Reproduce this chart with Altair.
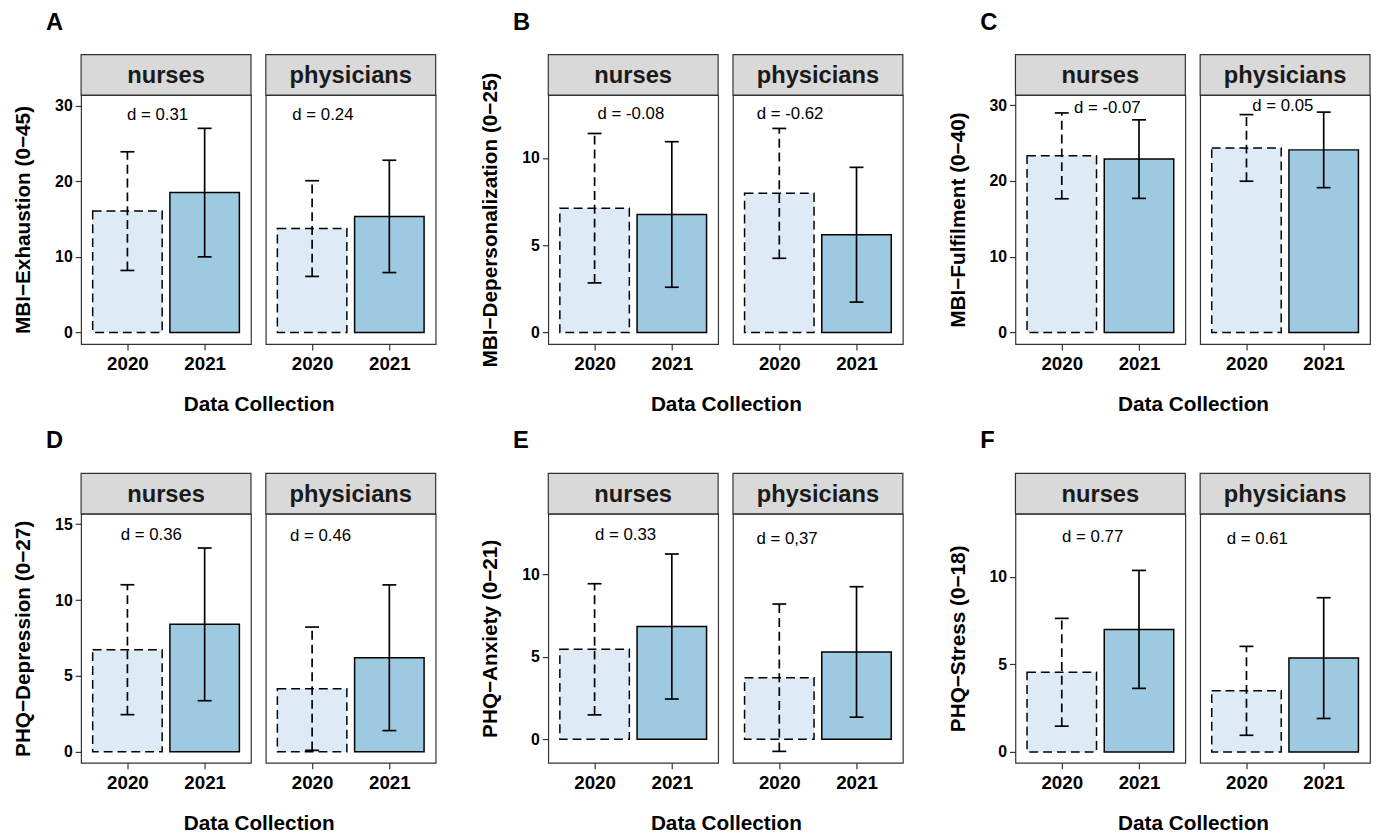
import altair as alt
import pandas as pd

FONT = "Liberation Sans"

panels = ["A", "B", "C", "D", "E", "F"]
y_titles = ["MBI−Exhaustion (0−45)", "MBI−Depersonalization (0−25)", "MBI−Fulfilment (0−40)",
            "PHQ−Depression (0−27)", "PHQ−Anxiety (0−21)", "PHQ−Stress (0−18)"]
professions = ["nurses", "physicians"]
years = [2020, 2021]

nurses_2020_mean = [16.05, 7.12, 23.33, 6.73, 5.45, 4.55]
nurses_2020_sd = [7.85, 4.28, 5.67, 4.28, 3.97, 3.08]
nurses_2021_mean = [18.50, 6.76, 22.90, 8.40, 6.83, 7.00]
nurses_2021_sd = [8.50, 4.17, 5.19, 5.03, 4.39, 3.37]
phys_2020_mean = [13.74, 7.97, 24.38, 4.16, 3.73, 3.49]
phys_2020_sd = [6.33, 3.72, 4.40, 4.06, 4.46, 2.54]
phys_2021_mean = [15.35, 5.60, 24.12, 6.20, 5.29, 5.36]
phys_2021_sd = [7.43, 3.86, 4.99, 4.80, 3.95, 3.45]

d_nurses = ["d = 0.31", "d = -0.08", "d = -0.07", "d = 0.36", "d = 0.33", "d = 0.77"]
d_phys = ["d = 0.24", "d = -0.62", "d = 0.05", "d = 0.46", "d = 0,37", "d = 0.61"]
d_nurses_x = [2020.39, 2020.47, 2020.59, 2020.31, 2020.40, 2020.40]
d_nurses_y = [28.8, 12.5, 29.66, 14.3, 12.38, 12.3]
d_phys_x = [2020.14, 2020.14, 2020.47, 2020.11, 2020.10, 2020.14]
d_phys_y = [28.8, 12.5, 29.9, 14.24, 12.12, 12.17]

y_domains = [[-1.53, 31.4], [-0.66, 13.6], [-1.53, 31.36], [-0.72, 15.68], [-1.42, 13.65], [-0.62, 13.6]]
y_ticks = [[0, 10, 20, 30], [0, 5, 10], [0, 10, 20, 30], [0, 5, 10, 15], [0, 5, 10], [0, 5, 10]]

# ---- tables built from the arrays ----
rows = []
for i, p in enumerate(panels):
    vals = {
        ("nurses", 2020): (nurses_2020_mean[i], nurses_2020_sd[i]),
        ("nurses", 2021): (nurses_2021_mean[i], nurses_2021_sd[i]),
        ("physicians", 2020): (phys_2020_mean[i], phys_2020_sd[i]),
        ("physicians", 2021): (phys_2021_mean[i], phys_2021_sd[i]),
    }
    for (prof, yr), (m, s) in vals.items():
        rows.append(dict(panel=p, prof=prof, year=yr, yr=str(yr), mean=m, sd=s))
bars_df = pd.DataFrame(rows)

lab_rows = []
for i, p in enumerate(panels):
    lab_rows.append(dict(panel=p, prof="nurses", label=d_nurses[i], lx=d_nurses_x[i], ly=d_nurses_y[i]))
    lab_rows.append(dict(panel=p, prof="physicians", label=d_phys[i], lx=d_phys_x[i], ly=d_phys_y[i]))
lab_df = pd.DataFrame(lab_rows)

strip_df = pd.DataFrame({"prof": professions})

PW, PH, SH = 172, 252, 41
LIGHT, DARK = "#DEEBF7", "#9ECAE1"
DASH = [9, 5]


def panel_chart(i, prof):
    show_y = prof == "nurses"
    xscale = alt.Scale(domain=[2019.4, 2021.6], nice=False, zero=False)
    xaxis = alt.Axis(values=years, format="d", title=None, grid=False, domain=False,
                     labelFontSize=19, labelFontWeight="bold", labelColor="black",
                     tickSize=6, tickWidth=1.2, tickColor="#333333", labelPadding=5,
                     labelFlush=False)
    yscale = alt.Scale(domain=y_domains[i], nice=False, zero=False)
    if show_y:
        yaxis = alt.Axis(values=y_ticks[i], title=y_titles[i], grid=False, domain=False,
                         labelFontSize=16, labelFontWeight="bold", labelColor="black",
                         tickSize=6, tickWidth=1.2, tickColor="#333333", labelPadding=3,
                         titleFontSize=21, titleFontWeight="bold", titleColor="black",
                         titlePadding=18, minExtent=30, maxExtent=30)
    else:
        yaxis = None

    # facet strip (header) drawn above the panel
    sd = strip_df[strip_df.prof == prof]
    strip_bg = alt.Chart(sd).mark_rect(fill="#D9D9D9", stroke="#333333", strokeWidth=1.2).encode(
        x=alt.value(0), x2=alt.value(PW), y=alt.value(-SH), y2=alt.value(0)
    )
    strip_tx = alt.Chart(sd).mark_text(
        fontSize=24, fontWeight="bold", color="#1A1A1A", baseline="middle", align="center"
    ).encode(text="prof:N", x=alt.value(PW / 2), y=alt.value(-SH / 2 + 1))

    d = bars_df[(bars_df.panel == panels[i]) & (bars_df.prof == prof)]
    base = alt.Chart(d).transform_calculate(
        x_lo="datum.year - 0.45", x_hi="datum.year + 0.45",
        c_lo="datum.year - 0.09", c_hi="datum.year + 0.09",
        lo="datum.mean - datum.sd", hi="datum.mean + datum.sd",
    )

    def bar_layer(yr, fill, dash):
        kw = dict(stroke="black", strokeWidth=1.5, fill=fill)
        if dash:
            kw["strokeDash"] = dash
        return base.transform_filter(alt.datum.yr == yr).mark_rect(**kw).encode(
            x=alt.X("x_lo:Q", scale=xscale, axis=xaxis),
            x2="x_hi:Q",
            y=alt.Y("mean:Q", scale=yscale, axis=yaxis),
            y2=alt.datum(0),
        )

    def err_layer(yr, dash):
        kw = dict(color="black", strokeWidth=1.7)
        if dash:
            kw["strokeDash"] = dash
        b = base.transform_filter(alt.datum.yr == yr)
        v = b.mark_rule(**kw).encode(
            x=alt.X("year:Q", scale=xscale, axis=xaxis),
            y=alt.Y("lo:Q", scale=yscale, axis=yaxis),
            y2="hi:Q",
        )
        ch = b.mark_rule(color="black", strokeWidth=1.7).encode(
            x=alt.X("c_lo:Q", scale=xscale, axis=xaxis), x2="c_hi:Q",
            y=alt.Y("hi:Q", scale=yscale, axis=yaxis),
        )
        cl = b.mark_rule(color="black", strokeWidth=1.7).encode(
            x=alt.X("c_lo:Q", scale=xscale, axis=xaxis), x2="c_hi:Q",
            y=alt.Y("lo:Q", scale=yscale, axis=yaxis),
        )
        return [v, ch, cl]

    ld = lab_df[(lab_df.panel == panels[i]) & (lab_df.prof == prof)]
    text = alt.Chart(ld).mark_text(fontSize=17, color="black", baseline="middle", align="center").encode(
        x=alt.X("lx:Q", scale=xscale, axis=xaxis),
        y=alt.Y("ly:Q", scale=yscale, axis=yaxis),
        text="label:N",
    )
    layers = [bar_layer("2020", LIGHT, DASH), bar_layer("2021", DARK, None)]
    layers += err_layer("2020", DASH) + err_layer("2021", None)
    layers += [text, strip_bg, strip_tx]
    return alt.layer(*layers).properties(width=PW, height=PH)


def group(i):
    cols = [panel_chart(i, p) for p in professions]
    inner = alt.hconcat(*cols, spacing=11,
                        title=alt.TitleParams("Data Collection", orient="bottom", anchor="middle",
                                              fontSize=21, fontWeight="bold", color="black",
                                              baseline="alphabetic", offset=37, dx=35))
    return alt.vconcat(inner, title=alt.TitleParams(panels[i], anchor="start", fontSize=24,
                                                    fontWeight="bold", color="black",
                                                    baseline="alphabetic", offset=0, dx=34))


row1 = alt.hconcat(group(0), group(1), group(2), spacing=42)
row2 = alt.hconcat(group(3), group(4), group(5), spacing=42)

chart = alt.vconcat(row1, row2, spacing=14).properties(
    padding={"left": 4, "top": -3, "right": 0, "bottom": 0}
).configure(font=FONT).configure_view(stroke="#333333", strokeWidth=1.2)

chart.save("out.html", embed_options={"renderer": "svg", "actions": False})
